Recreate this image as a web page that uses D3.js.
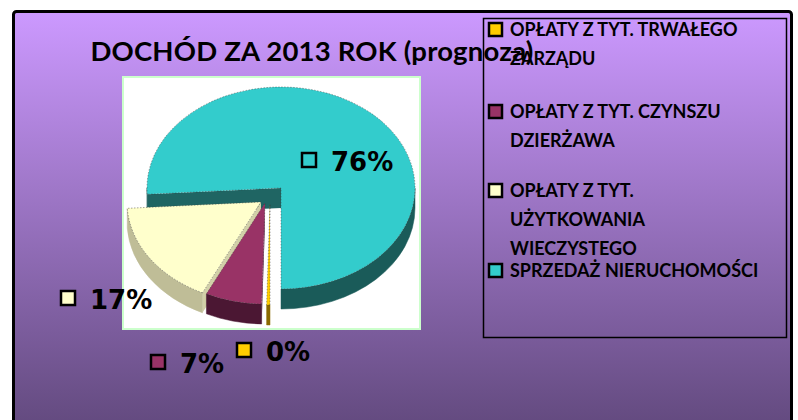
<!DOCTYPE html>
<html>
<head>
<meta charset="utf-8">
<script src="https://cdnjs.cloudflare.com/ajax/libs/d3/7.8.5/d3.min.js"></script>
<style>
    body { margin: 0; background: #fff; }
    #chart { width: 798px; height: 420px; }
</style>
</head>
<body>
<div id="chart"></div>
<script>
// values (percent of total)
const chartTitle = "DOCHÓD ZA 2013 ROK (prognoza)";
const categories = ["TRWAŁY ZARZĄD", "CZYNSZ DZIERŻAWA", "UŻYTKOWANIE WIECZYSTE", "SPRZEDAŻ NIERUCHOMOŚCI"];
const shares = [0.4, 6.8, 16.8, 76.0];
const legendLines = [
    ["OPŁATY Z TYT. TRWAŁEGO", "ZARZĄDU"],
    ["OPŁATY Z TYT. CZYNSZU", "DZIERŻAWA"],
    ["OPŁATY Z TYT.", "UŻYTKOWANIA", "WIECZYSTEGO"],
    ["SPRZEDAŻ NIERUCHOMOŚCI"]
];

// styles
const topColors  = ["#ffcc00", "#993366", "#ffffcc", "#33cccc"];
const wallColors = ["#8a6a00", "#4b1733", "#bfbd97", "#1a5b59"];
const cutColors  = ["#a07c00", "#5c1d3f", "#d2d0a8", "#1f6563"];

class Pie3D {
    constructor(parentElement) {
        this.parentElement = parentElement;
        this.initVis();
    }

    initVis() {
        let vis = this;

        vis.width = 798;
        vis.height = 420;

        vis.svg = d3.select("#" + vis.parentElement).append("svg")
            .attr("width", vis.width)
            .attr("height", vis.height);

        let defs = vis.svg.append("defs");
        let grad = defs.append("linearGradient")
            .attr("id", "bg").attr("x1", 0).attr("y1", 0).attr("x2", 0).attr("y2", 1);
        grad.append("stop").attr("offset", "0%").attr("stop-color", "#cc99ff");
        grad.append("stop").attr("offset", "100%").attr("stop-color", "#5f477a");

        // outer frame
        vis.svg.append("rect")
            .attr("x", 13.5).attr("y", 11.5)
            .attr("width", 778).attr("height", 430)
            .attr("rx", 3)
            .attr("fill", "url(#bg)")
            .attr("stroke", "#000")
            .attr("stroke-width", 3);

        // plot area
        vis.svg.append("rect")
            .attr("x", 123).attr("y", 77)
            .attr("width", 297).attr("height", 252)
            .attr("fill", "#fff")
            .attr("stroke", "#ccffcc")
            .attr("stroke-width", 2);

        // pie geometry
        vis.cx = 281;
        vis.cy = 188;
        vis.rx = 134;
        vis.ry = 101;
        vis.depth = 20;
        vis.explode = [[-11, 16], [-16, 15], [-20, 14], [0, 0]];

        vis.pie = d3.pie().sort(null).value(d => d.value)
            .startAngle(Math.PI).endAngle(3 * Math.PI);
        vis.arc = d3.arc().innerRadius(0).outerRadius(vis.rx);

        vis.data = shares.map((v, i) => ({name: categories[i], value: v, i: i}));
        vis.total = d3.sum(shares);

        vis.updateVis();
    }

    pt(a, off, down) {
        let vis = this;
        return [vis.cx + off[0] + vis.rx * Math.sin(a),
                vis.cy + off[1] - vis.ry * Math.cos(a) + (down ? vis.depth : 0)];
    }

    wallPath(b0, b1, off) {
        let vis = this;
        let p0 = vis.pt(b0, off, false), p1 = vis.pt(b1, off, false);
        let q0 = vis.pt(b0, off, true), q1 = vis.pt(b1, off, true);
        let large = (b1 - b0) > Math.PI ? 1 : 0;
        return `M${p0}A${vis.rx},${vis.ry} 0 ${large} 1 ${p1}L${q1}A${vis.rx},${vis.ry} 0 ${large} 0 ${q0}Z`;
    }

    cutPath(a, off) {
        let vis = this;
        let c = [vis.cx + off[0], vis.cy + off[1]];
        let cd = [c[0], c[1] + vis.depth];
        return `M${c}L${vis.pt(a, off, false)}L${vis.pt(a, off, true)}L${cd}Z`;
    }

    updateVis() {
        let vis = this;

        let arcs = vis.pie(vis.data);
        let g = vis.svg.append("g");

        // back to front: big slice first, exploded ones after
        arcs.slice().reverse().forEach(d => {
            let i = d.data.i;
            let off = vis.explode[i];
            let s = g.append("g");

            // radial cut faces
            if (Math.sin(d.startAngle) < -0.001) {
                s.append("path").attr("d", vis.cutPath(d.startAngle, off))
                    .attr("fill", cutColors[i]);
            }
            if (Math.sin(d.endAngle) > 0.001) {
                s.append("path").attr("d", vis.cutPath(d.endAngle, off))
                    .attr("fill", cutColors[i]);
            }

            // outer wall: only the front half of the rim shows
            [[Math.PI / 2, 3 * Math.PI / 2], [5 * Math.PI / 2, 7 * Math.PI / 2]].forEach(r => {
                let b0 = Math.max(d.startAngle, r[0]);
                let b1 = Math.min(d.endAngle, r[1]);
                if (b1 > b0) {
                    s.append("path").attr("d", vis.wallPath(b0, b1, off))
                        .attr("fill", wallColors[i])
                        .attr("stroke", wallColors[i])
                        .attr("stroke-width", 0.5);
                }
            });

            // top face
            s.append("path")
                .attr("transform", `translate(${vis.cx + off[0]},${vis.cy + off[1]}) scale(1,${vis.ry / vis.rx})`)
                .attr("d", vis.arc(d))
                .attr("fill", topColors[i])
                .attr("stroke", "#3a3a3a")
                .attr("stroke-opacity", 0.45)
                .attr("stroke-dasharray", "1.5 1.5")
                .attr("vector-effect", "non-scaling-stroke")
                .attr("stroke-width", 1);
        });

        // data labels (key square + percent)
        let labelAt = [[244, 350], [158, 362], [68, 298], [309, 160]];
        vis.data.forEach((d, i) => {
            let p = labelAt[i];
            vis.svg.append("rect")
                .attr("x", p[0] - 7).attr("y", p[1] - 7)
                .attr("width", 14).attr("height", 14)
                .attr("fill", topColors[i])
                .attr("stroke", "#000")
                .attr("stroke-width", 2.5);
            vis.svg.append("text")
                .attr("x", p[0] + 22).attr("y", p[1] + 11)
                .attr("font-family", "DejaVu Sans, Verdana, sans-serif")
                .attr("font-weight", "bold")
                .attr("font-size", 26)
                .attr("fill", "#000")
                .text(d3.format(".0%")(d.value / vis.total));
        });

        // title
        vis.svg.append("text")
            .attr("x", 312).attr("y", 61)
            .attr("text-anchor", "middle")
            .attr("font-family", "Lato, sans-serif")
            .attr("font-weight", "bold")
            .attr("font-size", 27.5)
            .attr("letter-spacing", 0.2)
            .attr("fill", "#000")
            .text(chartTitle);

        // legend
        let lg = vis.svg.append("g");
        lg.append("rect")
            .attr("x", 483.5).attr("y", 18.5)
            .attr("width", 303).attr("height", 319)
            .attr("fill", "none")
            .attr("stroke", "#000")
            .attr("stroke-width", 1.5);

        let firstBase = [36, 118, 197, 277];
        legendLines.forEach((lines, i) => {
            lg.append("rect")
                .attr("x", 489).attr("y", firstBase[i] - 13)
                .attr("width", 13).attr("height", 13)
                .attr("fill", topColors[i])
                .attr("stroke", "#000")
                .attr("stroke-width", 2.5);
            lines.forEach((t, j) => {
                lg.append("text")
                    .attr("x", 510).attr("y", firstBase[i] + j * 29)
                    .attr("font-family", "Lato, sans-serif")
                    .attr("font-weight", "bold")
                    .attr("font-size", 18)
                    .attr("fill", "#000")
                    .text(t);
            });
        });
    }
}

new Pie3D("chart");
</script>
</body>
</html>
